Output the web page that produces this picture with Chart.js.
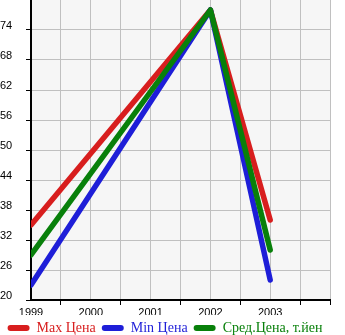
<!DOCTYPE html>
<html>
<head>
<meta charset="utf-8">
<script src="https://cdn.jsdelivr.net/npm/chart.js"></script>
<style>
  html, body { margin: 0; padding: 0; background: #fff; }
  #wrap { width: 345px; height: 335px; }
</style>
</head>
<body>
<div id="wrap"><canvas id="c" width="345" height="335"></canvas></div>
<script>
// values
const years = [1999, 2002, 2003];
const maxPrice = [35, 78, 36];
const minPrice = [23, 78, 24];
const avgPrice = [29, 78, 30];
const seriesNames = ['Max Цена', 'Min Цена', 'Сред.Цена, т.йен'];
const seriesColors = ['#d81e1e', '#1e1ed8', '#08800a'];

const xMin = 1999, xMax = 2004, xStep = 0.5;
const yMin = 20, yMax = 80, yStep = 6;

function toPoints(vals) {
  return years.map((y, i) => ({ x: y, y: vals[i] }));
}

const plotBg = {
  id: 'plotBg',
  beforeDraw(chart) {
    const a = chart.chartArea;
    const ctx = chart.ctx;
    ctx.save();
    ctx.fillStyle = '#f6f6f6';
    ctx.fillRect(a.left, a.top, a.right - a.left, a.bottom - a.top);
    ctx.restore();
  }
};

const datasets = [maxPrice, minPrice, avgPrice].map((vals, i) => ({
  label: seriesNames[i],
  data: toPoints(vals),
  borderColor: seriesColors[i],
  backgroundColor: seriesColors[i],
  borderWidth: 5.5,
  borderCapStyle: 'round',
  borderJoinStyle: 'round',
  pointRadius: 0,
  fill: false,
  tension: 0,
  order: 2 - i, // green on top
}));

new Chart(document.getElementById('c'), {
  type: 'line',
  data: { datasets },
  plugins: [plotBg],
  options: {
    responsive: false,
    animation: false,
    layout: { padding: { left: 0, right: 15, top: 0, bottom: -10 } },
    plugins: {
      tooltip: { enabled: false },
      legend: {
        position: 'bottom',
        align: 'center',
        labels: {
          boxWidth: 22,
          boxHeight: 6,
          useBorderRadius: true,
          borderRadius: 3,
          padding: 6,
          font: { family: '"Liberation Serif"', size: 14, lineHeight: 1 },
          generateLabels(chart) {
            return chart.data.datasets.map((ds, i) => ({
              text: ds.label,
              fillStyle: ds.borderColor,
              strokeStyle: ds.borderColor,
              fontColor: ds.borderColor,
              lineWidth: 0,
              borderRadius: 3,
              hidden: false,
              datasetIndex: i,
            }));
          }
        }
      }
    },
    scales: {
      x: {
        type: 'linear',
        min: xMin,
        max: xMax,
        afterFit(s) { s.height = 15; },
        ticks: {
          stepSize: xStep,
          autoSkip: false,
          maxRotation: 0,
          padding: 1,
          color: '#000',
          font: { family: '"Liberation Sans"', size: 11 },
          callback: (v) => (Number.isInteger(v) && v < xMax) ? String(v) : ''
        },
        grid: {
          color: '#c0c0c0',
          lineWidth: 1,
          tickLength: 5,
          tickColor: (ctx) => (ctx.tick && Number.isInteger(ctx.tick.value) && ctx.tick.value < xMax) ? 'rgba(0,0,0,0)' : '#000'
        },
        border: { color: '#000', width: 2 }
      },
      y: {
        min: yMin,
        max: yMax,
        afterFit(s) { s.width = 31; s.paddingTop = 0; s.paddingBottom = 0; },
        ticks: {
          stepSize: yStep,
          crossAlign: 'far',
          labelOffset: -4,
          padding: 2,
          color: '#000',
          font: { family: '"Liberation Sans"', size: 11 },
          callback: (v) => v < yMax ? String(v) : null
        },
        grid: {
          color: '#c0c0c0',
          lineWidth: 1,
          tickLength: 5,
          tickColor: '#000'
        },
        border: { color: '#000', width: 2 }
      }
    }
  }
});
</script>
</body>
</html>
